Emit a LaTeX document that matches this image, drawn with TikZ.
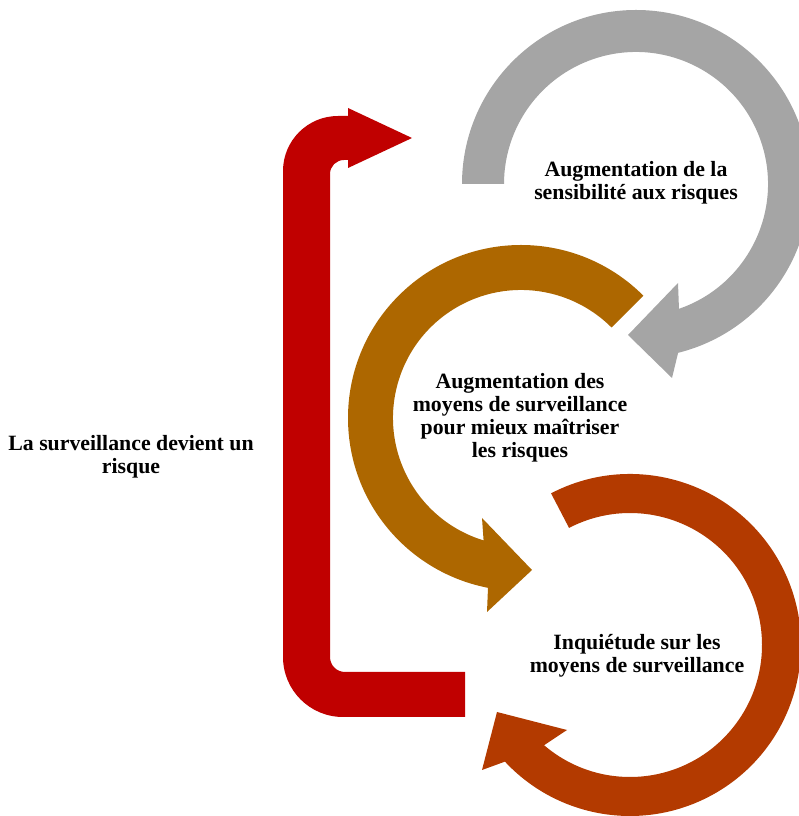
\documentclass[tikz,border=0pt]{standalone}
\usepackage{fontspec}
\setmainfont{Liberation Serif}
\usetikzlibrary{calc}
\definecolor{cgray}{HTML}{A5A5A5}
\definecolor{cbrown}{HTML}{AD6700}
\definecolor{corange}{HTML}{B33A00}
\definecolor{cred}{HTML}{C00000}
\tikzset{
  lbl/.style={align=center, font=\bfseries\fontsize{21.8}{23}\selectfont, text=black, inner sep=0pt},
}
\begin{document}
\begin{tikzpicture}[x=1pt,y=1pt]
\useasboundingbox (0,0) rectangle (799,816);
\begin{scope}
\clip (0,0) rectangle (799,816);
% gray circular arrow
\coordinate (g) at (636,632);
\fill[cgray] ($(g)+(180:174)$) arc[start angle=180,end angle=-76,radius=174]
  -- (672,438) -- (628,481) -- (678,533)
  -- ($(g)+(-71:132)$) arc[start angle=-71,end angle=180,radius=132] -- cycle;
% brown circular arrow
\coordinate (b) at (521,398);
\fill[cbrown] ($(b)+(45:173)$) arc[start angle=45,end angle=259,radius=173]
  -- (487,204) -- (532,246) -- (482,298)
  -- ($(b)+(253:128)$) arc[start angle=253,end angle=45,radius=128] -- cycle;
% orange circular arrow
\coordinate (o) at (630,171);
\fill[corange] ($(o)+(117.5:171)$) arc[start angle=117.5,end angle=-137,radius=171]
  -- (482,46) -- (497,104) -- (567,86)
  -- ($(o)+(-130.6:132)$) arc[start angle=-130.6,end angle=117.5,radius=132] -- cycle;
% red bracket arrow
\fill[cred] (465,99) -- (343,99) arc[start angle=270,end angle=180,radius=60]
  -- (283,645) arc[start angle=180,end angle=90,radius=55]
  -- (348,700) -- (348,708) -- (412,678) -- (348,648) -- (348,656) -- (344,656)
  arc[start angle=90,end angle=180,radius=14]
  -- (330,159) arc[start angle=180,end angle=270,radius=15]
  -- (465,144) -- cycle;
\end{scope}
\node[lbl] (t1) at (636,633) {Augmentation de la\\sensibilité aux risques};
\node[lbl] (t2) at (520,398) {Augmentation des\\moyens de surveillance\\pour mieux maîtriser\\les risques};
\node[lbl] (t3) at (637,160) {Inquiétude sur les\\moyens de surveillance};
\node[lbl] (t4) at (131,359) {La surveillance devient un\\risque};
\end{tikzpicture}
\end{document}
